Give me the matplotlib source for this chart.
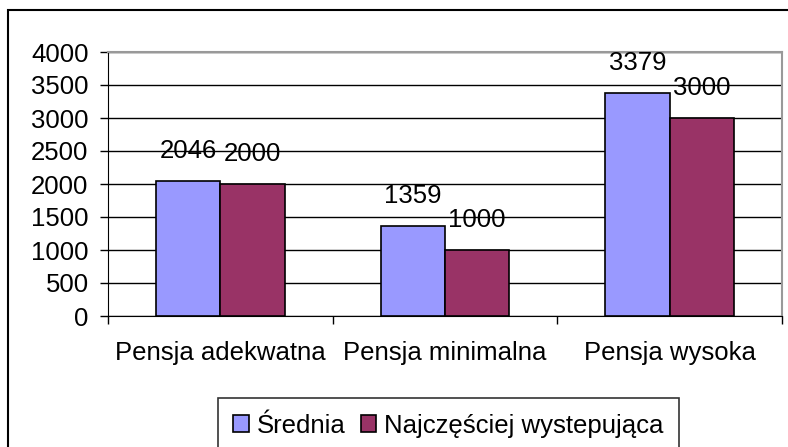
import numpy as np
import matplotlib.pyplot as plt
from matplotlib.patches import Rectangle

plt.rcParams['font.family'] = ['Liberation Sans', 'DejaVu Sans']

categories = ['Pensja adekwatna', 'Pensja minimalna', 'Pensja wysoka']
srednia = [2046, 1359, 3379]
najczestsza = [2000, 1000, 3000]
series_names = ['Średnia', 'Najczęściej wystepująca']
colors = ['#9999FF', '#993366']
y_ticks = [0, 500, 1000, 1500, 2000, 2500, 3000, 3500, 4000]

W, H = 788, 447
FS = 18.5
fig = plt.figure(figsize=(W / 100, H / 100), dpi=100)

# outer chart frame
fig.patches.append(Rectangle((8 / W, -0.05), 1.2, 1 - 10 / H + 0.05,
                             transform=fig.transFigure, fill=False,
                             edgecolor='black', linewidth=1.5))

ax = fig.add_axes([108 / W, 1 - 316 / H, (782 - 108) / W, (316 - 52) / H])

x = np.arange(len(categories))
bw = 1 / 3.5
bars1 = ax.bar(x - bw / 2, srednia, bw, color=colors[0], edgecolor='black',
               linewidth=1.2, label=series_names[0], zorder=3)
bars2 = ax.bar(x + bw / 2, najczestsza, bw, color=colors[1], edgecolor='black',
               linewidth=1.2, label=series_names[1], zorder=3)

for bars in (bars1, bars2):
    for b in bars:
        ax.annotate(f'{int(b.get_height())}',
                    (b.get_x() + b.get_width() / 2, b.get_height()),
                    xytext=(0, 13), textcoords='offset points',
                    ha='center', va='bottom', fontsize=FS, zorder=4)

ax.set_xlim(-0.5, 2.5)
ax.set_ylim(0, 4000)
ax.set_yticks(y_ticks)
ax.tick_params(axis='y', labelsize=FS, length=6, width=1, pad=8)
ax.yaxis.grid(True, color='black', linewidth=1, zorder=0)

# category labels centred, boundary ticks between them
ax.set_xticks(x)
ax.set_xticklabels(categories, fontsize=FS)
ax.tick_params(axis='x', which='major', length=0, pad=18)
ax.set_xticks([-0.5, 0.5, 1.5, 2.5], minor=True)
ax.tick_params(axis='x', which='minor', length=6, width=1, direction='out')

for side in ('top', 'right'):
    ax.spines[side].set_color('#999999')
    ax.spines[side].set_linewidth(1.5)
ax.spines['left'].set_color('black')
ax.spines['bottom'].set_color('black')

leg = fig.legend(loc='lower left', bbox_to_anchor=(218 / W, -6 / H),
                 ncol=2, fontsize=FS, frameon=True, fancybox=False,
                 handlelength=0.6, handleheight=0.6, handletextpad=0.3,
                 columnspacing=0.6, borderpad=0.6, borderaxespad=0,
                 edgecolor='black')
leg.get_frame().set_linewidth(1.2)

fig.savefig('out.png', dpi=100)
